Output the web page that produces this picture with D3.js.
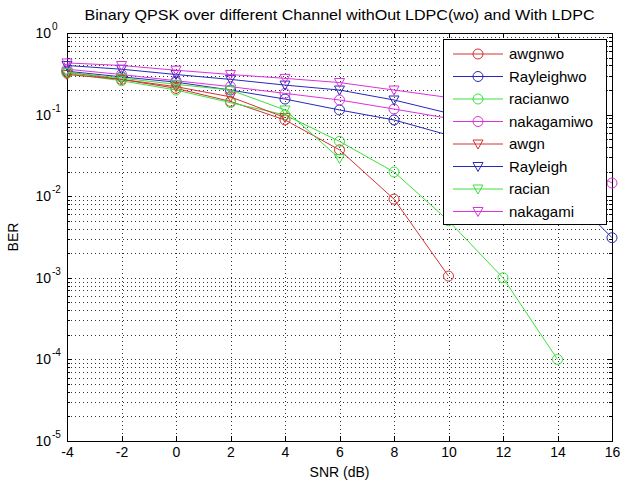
<!DOCTYPE html>
<html>
<head>
<meta charset="utf-8">
<title>Binary QPSK BER</title>
<script src="https://d3js.org/d3.v7.min.js"></script>
<style>
  body { margin: 0; background: #fff; }
  text { font-family: "Liberation Sans", Arial, sans-serif; }
</style>
</head>
<body>
<script>
// SNR points (dB) and BER values
const snr = [-4, -2, 0, 2, 4, 6, 8, 10, 12, 14, 16];
const awgnwo = [0.33, 0.27, 0.21, 0.145, 0.086, 0.037, 0.0092, 0.00105];
const rayleighwo = [0.34, 0.29, 0.25, 0.2, 0.155, 0.114, 0.086, 0.056, 0.03, 0.0145, 0.0031];
const racianwo = [0.32, 0.26, 0.2, 0.14, 0.099, 0.047, 0.0198, 0.005, 0.001, 0.0001];
const nakagamiwo = [0.36, 0.31, 0.26, 0.22, 0.182, 0.151, 0.117, 0.09, 0.06, 0.035, 0.0145];
const awgn = [0.31, 0.27, 0.22, 0.165, 0.092];
const rayleigh = [0.40, 0.36, 0.31, 0.27, 0.23, 0.2, 0.151, 0.104];
const racian = [0.33, 0.28, 0.235, 0.2, 0.114, 0.029];
const nakagami = [0.43, 0.40, 0.35, 0.31, 0.278, 0.247, 0.2, 0.162];

const xTicks = [-4, -2, 0, 2, 4, 6, 8, 10, 12, 14, 16];
const yDecades = [1, 1e-1, 1e-2, 1e-3, 1e-4, 1e-5];

const series = [
  { name: 'awgnwo', values: awgnwo, color: '#d23232', marker: 'o' },
  { name: 'Rayleighwo', values: rayleighwo, color: '#2828be', marker: 'o' },
  { name: 'racianwo', values: racianwo, color: '#3ce03c', marker: 'o' },
  { name: 'nakagamiwo', values: nakagamiwo, color: '#dc32dc', marker: 'o' },
  { name: 'awgn', values: awgn, color: '#d23232', marker: 'v' },
  { name: 'Rayleigh', values: rayleigh, color: '#2828be', marker: 'v' },
  { name: 'racian', values: racian, color: '#3ce03c', marker: 'v' },
  { name: 'nakagami', values: nakagami, color: '#dc32dc', marker: 'v' }
];

const W = 621, H = 486;
const pL = 67, pR = 612, pT = 33, pB = 441;

const svg = d3.select('body').append('svg')
  .attr('width', W).attr('height', H);

const x = d3.scaleLinear().domain([-4, 16]).range([pL, pR]);
const y = d3.scaleLog().domain([1e-5, 1]).range([pB, pT]);

// grid (dotted)
const grid = svg.append('g')
  .attr('stroke', '#333')
  .attr('stroke-width', 1)
  .attr('stroke-dasharray', '1,3');

grid.selectAll('.gx')
  .data(xTicks.slice(1, -1))
  .enter().append('line')
  .attr('x1', d => Math.round(x(d)) + 0.5).attr('x2', d => Math.round(x(d)) + 0.5)
  .attr('y1', pT).attr('y2', pB);

const yAll = y.ticks().filter(d => d < 0.99 && d > 1.01e-5);
grid.selectAll('.gy')
  .data(yAll)
  .enter().append('line')
  .attr('x1', pL).attr('x2', pR)
  .attr('y1', d => Math.round(y(d)) + 0.5).attr('y2', d => Math.round(y(d)) + 0.5);

// ticks inside the box
const ticks = svg.append('g').attr('stroke', '#000').attr('stroke-width', 1);
xTicks.forEach(d => {
  const px = Math.round(x(d)) + 0.5;
  ticks.append('line').attr('x1', px).attr('x2', px).attr('y1', pB).attr('y2', pB - 5);
  ticks.append('line').attr('x1', px).attr('x2', px).attr('y1', pT).attr('y2', pT + 5);
});
y.ticks().forEach(d => {
  const py = Math.round(y(d)) + 0.5;
  const major = yDecades.some(v => Math.abs(v - d) / v < 1e-6);
  const len = major ? 5 : 3;
  ticks.append('line').attr('x1', pL).attr('x2', pL + len).attr('y1', py).attr('y2', py);
  ticks.append('line').attr('x1', pR).attr('x2', pR - len).attr('y1', py).attr('y2', py);
});

// box
svg.append('rect')
  .attr('x', pL + 0.5).attr('y', pT + 0.5)
  .attr('width', pR - pL).attr('height', pB - pT)
  .attr('fill', 'none').attr('stroke', '#000');

// x axis labels
svg.append('g')
  .attr('transform', `translate(0,${pB})`)
  .call(d3.axisBottom(x).tickValues(xTicks).tickSize(0).tickPadding(6).tickFormat(d3.format('d')))
  .call(g => g.select('.domain').remove())
  .call(g => g.selectAll('text').attr('font-size', 14).attr('fill', '#000')
    .attr('font-family', '"Liberation Sans", Arial, sans-serif')
    .text(d => d < 0 ? '-' + Math.abs(d) : d));

// y axis labels 10^n
const yLab = svg.append('g');
yDecades.forEach(v => {
  const e = Math.round(Math.log10(v));
  yLab.append('text')
    .attr('x', 51).attr('y', y(v) + 5)
    .attr('text-anchor', 'end')
    .attr('font-size', 14).attr('fill', '#000')
    .text('10');
  yLab.append('text')
    .attr('x', 52).attr('y', y(v) - 3)
    .attr('font-size', 10).attr('fill', '#000')
    .text(e === 0 ? '0' : '-' + Math.abs(e));
});

// series
const line = d3.line().x(d => x(d[0])).y(d => y(d[1]));
const tri = 'M-5,-4L5,-4L0,5Z';

series.forEach(s => {
  const pts = s.values.map((v, i) => [snr[i], v]);
  const g = svg.append('g');
  g.append('path')
    .attr('d', line(pts))
    .attr('fill', 'none').attr('stroke', s.color).attr('stroke-width', 1);
  pts.forEach(p => {
    if (s.marker === 'o') {
      g.append('circle').attr('cx', x(p[0])).attr('cy', y(p[1])).attr('r', 5)
        .attr('fill', 'none').attr('stroke', s.color);
    } else {
      g.append('path').attr('d', tri)
        .attr('transform', `translate(${x(p[0])},${y(p[1])})`)
        .attr('fill', 'none').attr('stroke', s.color);
    }
  });
});

// legend
const leg = svg.append('g');
leg.append('rect')
  .attr('x', 443.5).attr('y', 39.5).attr('width', 163).attr('height', 185)
  .attr('fill', '#fff').attr('stroke', '#000');
series.forEach((s, i) => {
  const ly = 54 + i * 22.5;
  leg.append('line').attr('x1', 453).attr('x2', 503).attr('y1', ly).attr('y2', ly)
    .attr('stroke', s.color);
  if (s.marker === 'o') {
    leg.append('circle').attr('cx', 478).attr('cy', ly).attr('r', 5)
      .attr('fill', 'none').attr('stroke', s.color);
  } else {
    leg.append('path').attr('d', tri).attr('transform', `translate(478,${ly})`)
      .attr('fill', 'none').attr('stroke', s.color);
  }
  leg.append('text').attr('x', 509).attr('y', ly + 5)
    .attr('font-size', 15).attr('fill', '#000').text(s.name);
});

// title and axis titles
svg.append('text')
  .attr('x', (pL + pR) / 2).attr('y', 20)
  .attr('text-anchor', 'middle').attr('font-size', 15).attr('fill', '#000')
  .attr('textLength', 510).attr('lengthAdjust', 'spacingAndGlyphs')
  .text('Binary QPSK over different Channel withOut LDPC(wo) and With LDPC');

svg.append('text')
  .attr('x', (pL + pR) / 2).attr('y', 477)
  .attr('text-anchor', 'middle').attr('font-size', 14).attr('fill', '#000')
  .text('SNR (dB)');

svg.append('text')
  .attr('transform', `translate(18,${(pT + pB) / 2}) rotate(-90)`)
  .attr('text-anchor', 'middle').attr('font-size', 14).attr('fill', '#000')
  .text('BER');
</script>
</body>
</html>
